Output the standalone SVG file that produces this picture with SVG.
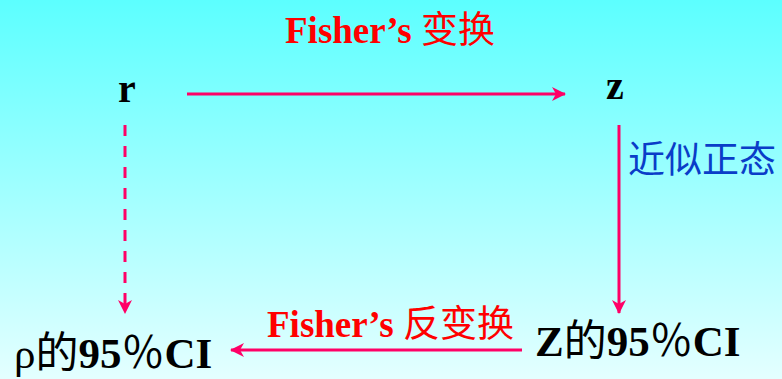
<svg xmlns="http://www.w3.org/2000/svg" width="782" height="379" viewBox="0 0 782 379">
<defs>
<linearGradient id="bg" x1="0" y1="0" x2="0" y2="1">
<stop offset="0" stop-color="#5CFFFF"/>
<stop offset="1" stop-color="#E4FFFF"/>
</linearGradient>
<marker id="ah" viewBox="0 0 14 14" refX="13" refY="7" markerWidth="14" markerHeight="14" markerUnits="userSpaceOnUse" orient="auto">
<path d="M0,0 L14,7 L0,14 L4,7 Z" fill="#FF0066"/>
</marker>
<style>
.conn{stroke:#FF0066;stroke-width:3;fill:none;marker-end:url(#ah)}
.dash{stroke-dasharray:11 10}
.node{font-family:"Liberation Serif","Noto Sans CJK SC",serif;font-weight:bold;fill:#000}
.lbl{font-family:"Liberation Serif","Noto Sans CJK SC",serif;font-weight:bold;fill:#FF0000;font-size:37px}
.cjk{font-family:"Noto Sans CJK SC",sans-serif;font-weight:normal}
.blue{font-family:"Noto Sans CJK SC",sans-serif;fill:#0A3DC8;font-size:37px}
</style>
</defs>
<rect width="782" height="379" fill="url(#bg)"/>
<g id="connectors">
<line class="conn" x1="187" y1="94" x2="565" y2="94"/>
<line class="conn" x1="619" y1="125" x2="619" y2="313"/>
<line class="conn dash" x1="125" y1="125" x2="125" y2="313"/>
<line class="conn" x1="522" y1="350" x2="231" y2="350"/>
</g>
<g id="label-fisher"><text class="lbl" x="285" y="43">Fisher’s <tspan class="cjk">变换</tspan></text></g>
<g id="label-normal"><text class="blue" x="628" y="173">近似正态</text></g>
<g id="label-inverse"><text class="lbl" x="267" y="337">Fisher’s <tspan class="cjk">反变换</tspan></text></g>
<g id="node-r"><text class="node" x="118" y="102" font-size="40">r</text></g>
<g id="node-z"><text class="node" x="606" y="99" font-size="40">z</text></g>
<g id="node-Zci"><text class="node" x="535" y="356" font-size="43">Z<tspan class="cjk">的</tspan>95<tspan class="cjk">％</tspan>CI</text></g>
<g id="node-rhoci"><text class="node" x="14" y="368" font-size="43"><tspan font-weight="normal">ρ</tspan><tspan class="cjk">的</tspan>95<tspan class="cjk">％</tspan>CI</text></g>
</svg>
